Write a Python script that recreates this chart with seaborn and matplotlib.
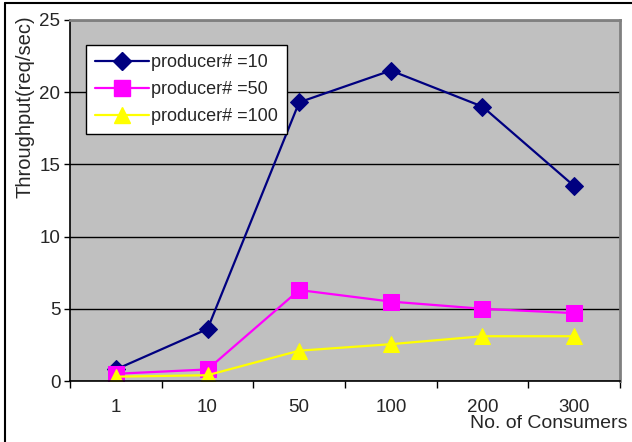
import matplotlib
matplotlib.use("Agg")
import matplotlib.pyplot as plt
import seaborn as sns
import pandas as pd
from matplotlib.lines import Line2D

consumers = ["1", "10", "50", "100", "200", "300"]
p10 = [0.8, 3.6, 19.3, 21.5, 19.0, 13.5]
p50 = [0.5, 0.8, 6.3, 5.5, 5.0, 4.7]
p100 = [0.3, 0.4, 2.1, 2.55, 3.1, 3.1]
series_names = ["producer# =10", "producer# =50", "producer# =100"]
yticks = [0, 5, 10, 15, 20, 25]

sns.set_theme(style="white")
plt.rcParams['font.family'] = ['Liberation Sans', 'DejaVu Sans']

rows = []
for name, vals in zip(series_names, [p10, p50, p100]):
    for i, v in enumerate(vals):
        rows.append({"pos": i, "val": v, "series": name})
df = pd.DataFrame(rows)

colors = {series_names[0]: "#000080", series_names[1]: "#FF00FF", series_names[2]: "#FFFF00"}
markers = {series_names[0]: "D", series_names[1]: "s", series_names[2]: "^"}
msizes = {series_names[0]: 9.5, series_names[1]: 11, series_names[2]: 11.5}

fig = plt.figure(figsize=(6.32, 4.42), dpi=100)
ax = fig.add_axes([70/632, 1 - 381/442, 550/632, 361/442])
ax.set_facecolor("#C0C0C0")

for name in series_names:
    sub = df[df.series == name]
    sns.lineplot(data=sub, x="pos", y="val", ax=ax, color=colors[name],
                 marker=markers[name], markersize=msizes[name],
                 markeredgecolor=colors[name], linewidth=1.6, label=name, legend=False)

ax.set_xlim(-0.5, 5.5)
ax.set_ylim(0, 25)
ax.set_yticks(yticks)
ax.set_yticklabels([str(t) for t in yticks], fontsize=13.5)
ax.yaxis.grid(True, color="black", linewidth=1)
ax.set_axisbelow(True)
ax.set_xticks(range(len(consumers)))
ax.set_xticklabels(consumers, fontsize=13.5)
ax.tick_params(axis="x", length=0, pad=13)
ax.set_xticks([i - 0.5 for i in range(len(consumers) + 1)], minor=True)
ax.tick_params(axis="x", which="minor", length=5, width=1, color="black", direction="out")
ax.tick_params(axis="y", length=4, width=1, color="black", direction="out", pad=3)
ax.xaxis.set_ticks_position("bottom")
ax.yaxis.set_ticks_position("left")
for s in ["left", "bottom"]:
    ax.spines[s].set_color("black")
    ax.spines[s].set_linewidth(1.2)
for s in ["top", "right"]:
    ax.spines[s].set_color("#808080")
    ax.spines[s].set_linewidth(2)
ax.set_xlabel("")
ax.set_ylabel("")

fig.text(25/632, 1 - 107/442, "Throughput(req/sec)", rotation=90, fontsize=14.5,
         ha="center", va="center")
fig.text(549/632, 1 - 423/442, "No. of Consumers", fontsize=14, ha="center", va="center")

handles = [Line2D([0], [0], color=colors[n], marker=markers[n], markersize=msizes[n],
                  markeredgecolor=colors[n], linewidth=1.6) for n in series_names]
leg = ax.legend(handles, series_names, loc="upper left", bbox_to_anchor=(16/550, 1 - 25/361),
                fontsize=13, frameon=True, fancybox=False, edgecolor="black",
                framealpha=1, borderpad=0.5, handlelength=3.0, handletextpad=0.1,
                labelspacing=0.56, borderaxespad=0)
leg.get_frame().set_linewidth(1)

fig.add_artist(Line2D([5/632, 5/632], [0, 1 - 3/442], color="black", linewidth=1.5,
                      transform=fig.transFigure))
fig.add_artist(Line2D([5/632, 1], [1 - 3/442, 1 - 3/442], color="black", linewidth=1.5,
                      transform=fig.transFigure))

fig.savefig("out.png", dpi=100)
